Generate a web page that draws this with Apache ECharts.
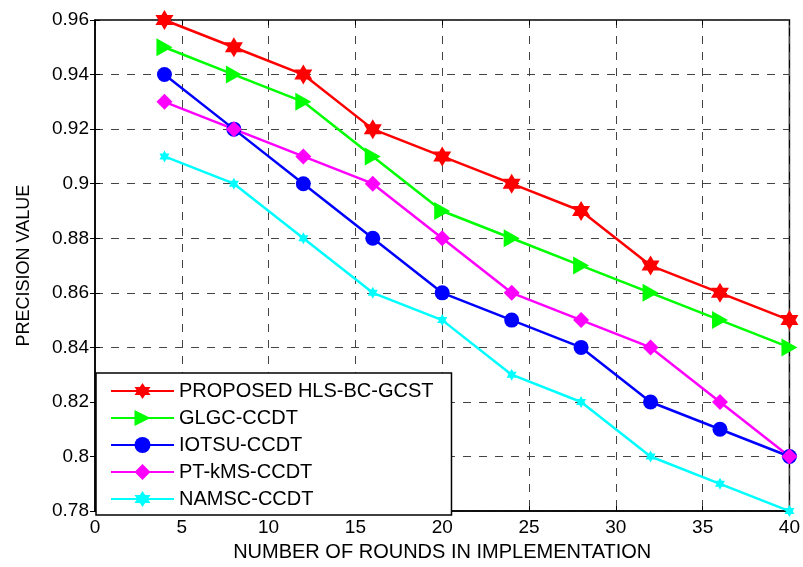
<!DOCTYPE html>
<html>
<head>
<meta charset="utf-8">
<script src="https://cdn.jsdelivr.net/npm/echarts@6/dist/echarts.min.js"></script>
<style>html,body{margin:0;padding:0;background:#fff;}#c{width:803px;height:567px;}</style>
</head>
<body>
<div id="c"></div>
<script>
var rounds = [4, 8, 12, 16, 20, 24, 28, 32, 36, 40];
var proposed = [0.96, 0.95, 0.94, 0.92, 0.91, 0.90, 0.89, 0.87, 0.86, 0.85];
var glgc = [0.95, 0.94, 0.93, 0.91, 0.89, 0.88, 0.87, 0.86, 0.85, 0.84];
var iotsu = [0.94, 0.92, 0.90, 0.88, 0.86, 0.85, 0.84, 0.82, 0.81, 0.80];
var ptkms = [0.93, 0.92, 0.91, 0.90, 0.88, 0.86, 0.85, 0.84, 0.82, 0.80];
var namsc = [0.91, 0.90, 0.88, 0.86, 0.85, 0.83, 0.82, 0.80, 0.79, 0.78];
var seriesNames = ['PROPOSED HLS-BC-GCST', 'GLGC-CCDT', 'IOTSU-CCDT', 'PT-kMS-CCDT', 'NAMSC-CCDT'];
var xTitle = 'NUMBER OF ROUNDS IN IMPLEMENTATION';
var yTitle = 'PRECISION VALUE';

var hexagram = 'path://M50,0L64.4,25L93.3,25L78.9,50L93.3,75L64.4,75L50,100L35.6,75L6.7,75L21.1,50L6.7,25L35.6,25Z';
var triRight = 'path://M0,0L100,50L0,100Z';

function pairs(arr) { return rounds.map(function (r, i) { return [r, arr[i]]; }); }

var font = 'Liberation Sans, Arial, sans-serif';
var chart = echarts.init(document.getElementById('c'), null, {renderer: 'canvas'});

function mk(name, data, color, symbol, size) {
  return {
    name: name, type: 'line', data: pairs(data),
    symbol: symbol, symbolSize: size,
    lineStyle: {color: color, width: 2.5},
    itemStyle: {color: color},
    color: color,
    animation: false
  };
}

var tickInside = {show: true, inside: true, length: 5, lineStyle: {color: '#000'}};
var gridDash = {show: true, lineStyle: {color: '#444', type: [8, 8], width: 1}};

chart.setOption({
  backgroundColor: '#fff',
  animation: false,
  grid: {left: 95, right: 10, top: 20, bottom: 52, show: true, borderColor: '#000', borderWidth: 1.5, backgroundColor: 'transparent'},
  legend: {
    orient: 'vertical', left: 96, top: 373,
    data: seriesNames,
    itemWidth: 63, itemHeight: 20, itemGap: 7,
    padding: [8, 18, 6, 14],
    borderColor: '#000', borderWidth: 1.5, backgroundColor: '#fff',
    textStyle: {fontFamily: font, fontSize: 20, color: '#000'}
  },
  xAxis: [{
    type: 'value', min: 0, max: 40, interval: 5,
    name: xTitle, nameLocation: 'middle', nameGap: 29,
    nameTextStyle: {fontFamily: font, fontSize: 20, color: '#000'},
    axisLine: {show: true, onZero: false, lineStyle: {color: '#000', width: 1.5}},
    axisTick: tickInside,
    axisLabel: {fontFamily: font, fontSize: 19, color: '#000', margin: 7},
    splitLine: gridDash
  }, {
    type: 'value', min: 0, max: 40, interval: 5, position: 'top',
    axisLine: {show: false}, axisTick: tickInside,
    axisLabel: {show: false}, splitLine: {show: false}
  }],
  yAxis: [{
    type: 'value', min: 0.78, max: 0.96, interval: 0.02,
    name: yTitle, nameLocation: 'middle', nameGap: 62, nameRotate: 90,
    nameTextStyle: {fontFamily: font, fontSize: 18, color: '#000'},
    axisLine: {show: true, onZero: false, lineStyle: {color: '#000', width: 1.5}},
    axisTick: tickInside,
    axisLabel: {fontFamily: font, fontSize: 19, color: '#000', margin: 6,
      formatter: function (v) { return String(parseFloat(v.toFixed(2))); }},
    splitLine: gridDash
  }, {
    type: 'value', min: 0.78, max: 0.96, interval: 0.02, position: 'right',
    axisLine: {show: false}, axisTick: tickInside,
    axisLabel: {show: false}, splitLine: {show: false}
  }],
  series: [
    mk(seriesNames[0], proposed, '#ff0000', hexagram, [18, 20]),
    mk(seriesNames[1], glgc, '#00ff00', triRight, [16, 18]),
    mk(seriesNames[2], iotsu, '#0000ff', 'circle', 15),
    mk(seriesNames[3], ptkms, '#ff00ff', 'diamond', 16),
    mk(seriesNames[4], namsc, '#00ffff', hexagram, [10, 12])
  ]
});
</script>
</body>
</html>
